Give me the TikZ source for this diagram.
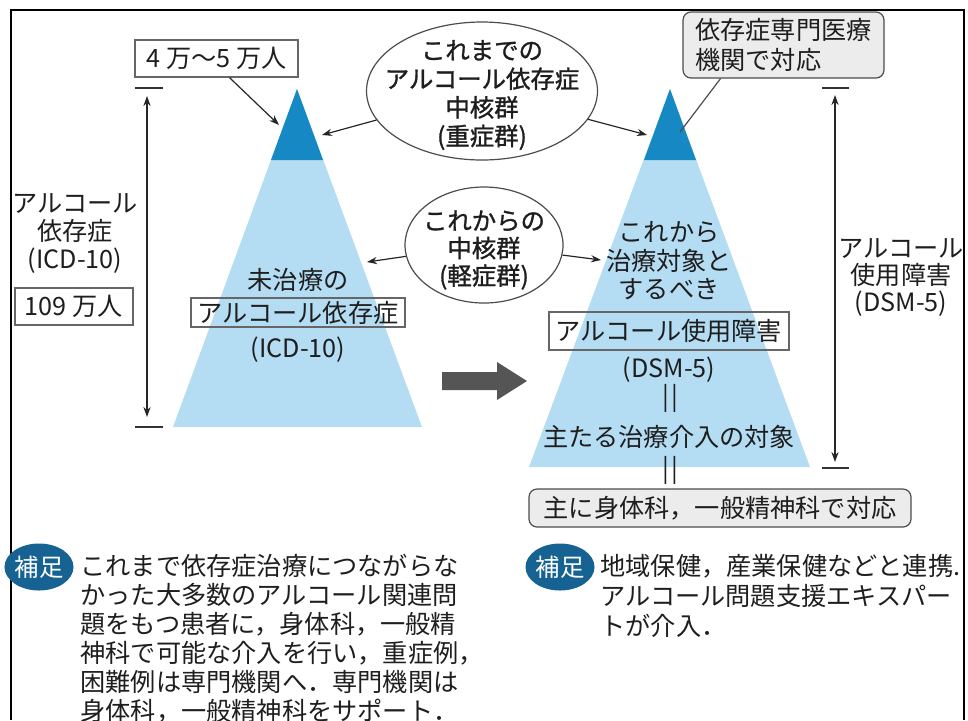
\documentclass[tikz,border=0pt]{standalone}
\usepackage{fontspec}
\setmainfont{Noto Sans CJK JP}
\newfontfamily\medfont{Noto Sans CJK JP}[FakeBold=1.2]
\usetikzlibrary{shapes.geometric,arrows.meta,calc}
\definecolor{lightb}{RGB}{180,221,243}
\definecolor{darkb}{RGB}{22,136,196}
\definecolor{badge}{RGB}{22,98,146}
\definecolor{txt}{RGB}{30,30,30}
\definecolor{boxgray}{RGB}{236,236,236}
\definecolor{arrgray}{RGB}{85,85,85}
\begin{document}
\begin{tikzpicture}[x=0.5pt,y=-0.5pt,
  font=\fontsize{12.6}{14.25}\selectfont, text=txt,
  txtnode/.style={inner sep=0pt, align=center},
  plainbox/.style={draw=black!60, line width=0.6pt, inner sep=0pt},
  roundbox/.style={draw=black!70, fill=boxgray, rounded corners=4pt, line width=0.6pt, inner sep=0pt},
  bubble/.style={ellipse, draw=black!70, line width=0.6pt, fill=white, inner sep=0pt},
  bubbletext/.style={inner sep=0pt, align=center, font=\medfont\fontsize{12.2}{14.3}\selectfont},
  link/.style={-{Stealth[length=5pt,width=3.6pt]}, line width=0.6pt, draw=black!85},
  plainlink/.style={line width=0.6pt, draw=black!70},
  dimarrow/.style={{Stealth[length=5pt,width=3.6pt]}-{Stealth[length=5pt,width=3.6pt]}, line width=0.6pt, draw=black!85},
  ticklen/.style={line width=0.6pt, draw=black!80},
  badgenode/.style={ellipse, fill=badge, text=white, inner sep=0pt, minimum width=29pt, minimum height=23.5pt, font=\fontsize{12.2}{14}\selectfont},
]
\useasboundingbox (0,0) rectangle (968,720);

% frame
\draw[line width=1.2pt] (11,720) -- (11,10) -- (964,10) -- (964,720);

% pyramids
\fill[lightb] (173,427) -- (297,89) -- (422,427) -- cycle;
\fill[darkb] (271,160) -- (297,89) -- (323,160) -- cycle;
\fill[lightb] (529,467) -- (670,89) -- (810,467) -- cycle;
\fill[darkb] (644,160) -- (670,89) -- (696,160) -- cycle;

% big gray arrow
\fill[arrgray] (442,372) -- (497,372) -- (497,362) -- (527,381) -- (497,400) -- (497,390) -- (442,390) -- cycle;

% left dimension
\coordinate (lt1) at (135,88); \coordinate (lt2) at (163,88);
\coordinate (lb1) at (135,427); \coordinate (lb2) at (163,427);
\coordinate (la1) at (147,96); \coordinate (la2) at (147,417);
\draw[ticklen] (lt1) -- (lt2);
\draw[ticklen] (lb1) -- (lb2);
\draw[dimarrow] (la1) -- (la2);

% right dimension
\coordinate (rt1) at (822,88); \coordinate (rt2) at (849,88);
\coordinate (rb1) at (822,468); \coordinate (rb2) at (849,468);
\coordinate (ra1) at (835,95); \coordinate (ra2) at (835,462);
\draw[ticklen] (rt1) -- (rt2);
\draw[ticklen] (rb1) -- (rb2);
\draw[dimarrow] (ra1) -- (ra2);

% top-left box
\node[plainbox, minimum width=81.5pt, minimum height=18.5pt] (n45) at (216.5,58.5) {4 万～5 万人};
\coordinate (tipA) at (279,125);
\draw[link] ($(n45.south)+(13,0)$) -- (tipA);

% ellipse 1
\node[bubble, minimum width=115.5pt, minimum height=69pt] (e1) at (482,91) {};
\node[bubbletext] (e1t) at (482,95) {これまでの\\アルコール依存症\\中核群\\(重症群)};
\coordinate (tipB) at (322,135);
\coordinate (tipC) at (647,135);
\draw[link] (e1) -- (tipB);
\draw[link] (e1) -- (tipC);

% ellipse 2
\node[bubble, minimum width=79pt, minimum height=58pt] (e2) at (484,245) {};
\node[bubbletext, font=\medfont\fontsize{12.2}{13.75}\selectfont] (e2t) at (484,250) {これからの\\中核群\\(軽症群)};
\coordinate (tipD) at (367,262);
\coordinate (tipE) at (601,260);
\draw[link] (e2) -- (tipD);
\draw[link] (e2) -- (tipE);

% specialist box
\node[roundbox, minimum width=100.5pt, minimum height=33pt, align=left, font=\fontsize{12.6}{15}\selectfont] (spec) at (783.5,45) {依存症専門医療\\機関で対応};
\coordinate (tipF) at (680,132);
\draw[plainlink] ($(spec.south)+(-63,0)$) -- (tipF);

% left labels
\node[txtnode, font=\fontsize{12.6}{14}\selectfont] (lab1) at (75,234) {アルコール\\依存症\\(ICD-10)};
\node[plainbox, minimum width=59pt, minimum height=18.5pt] (n109) at (74,306.5) {109 万人};

% left pyramid texts
\node[txtnode] (mi) at (298,280) {未治療の};
\node[plainbox, minimum width=107pt, minimum height=14.5pt] (boxicd) at (298,312.5) {アルコール依存症};
\node[txtnode] (icd1) at (298,350) {(ICD-10)};

% right pyramid texts
\node[txtnode] (kore) at (669,261) {これから\\治療対象と\\するべき};
\node[plainbox, minimum width=120pt, minimum height=19pt] (boxdsm) at (669,331) {アルコール使用障害};
\node[txtnode] (dsm1) at (669,370) {(DSM-5)};
\node[txtnode] (eq1) at (670,398) {|\kern1pt|};
\node[txtnode] (shu) at (669,437) {主たる治療介入の対象};
\node[txtnode] (eq2) at (670,470) {|\kern1pt|};
\node[roundbox, minimum width=191pt, minimum height=19pt] (bottom) at (720,508) {主に身体科，一般精神科で対応};

% right labels
\node[txtnode, font=\fontsize{12.6}{13.5}\selectfont] (lab2) at (901,278) {アルコール\\使用障害\\(DSM-5)};

% notes
\node[badgenode] (b1) at (39,567) {補足};
\node[badgenode] (b2) at (560,567) {補足};
\begin{scope}
\clip (0,0) rectangle (968,720);
\node[txtnode, align=left, anchor=north west, font=\fontsize{12.6}{14.45}\selectfont] (p1) at (80,554) {これまで依存症治療につながらな\\かった大多数のアルコール関連問\\題をもつ患者に，身体科，一般精\\神科で可能な介入を行い，重症例\rlap{，}\\困難例は専門機関へ．専門機関は\\身体科，一般精神科をサポート．};
\end{scope}
\node[txtnode, align=left, anchor=north west, font=\fontsize{12.6}{15}\selectfont] (p2) at (600,554) {地域保健，産業保健などと連携.\\アルコール問題支援エキスパー\\トが介入．};
\end{tikzpicture}
\end{document}
